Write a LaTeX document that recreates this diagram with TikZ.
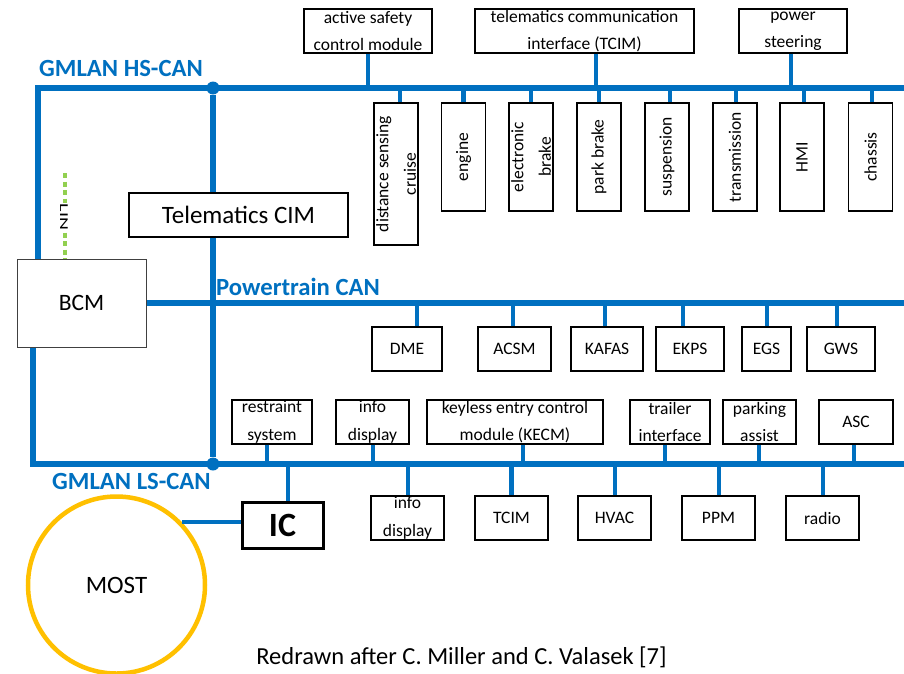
\documentclass[tikz,border=0pt]{standalone}
\usepackage{fontspec}
\setmainfont{Carlito}
\usepackage{tikz}
\usetikzlibrary{positioning, calc}
\definecolor{cBus}{RGB}{0,112,192}
\definecolor{cLin}{RGB}{146,208,80}
\definecolor{cMost}{RGB}{255,192,0}
\tikzset{
	bus/.style={line width=5.5pt, draw=cBus},
	stub/.style={line width=4.5pt, draw=cBus},
	ecu/.style={rectangle, draw=black, line width=1.3pt, fill=white, inner sep=0pt, align=center, font=\fontsize{17.5}{27.5}\selectfont},
	vecu/.style={ecu, rotate=90, minimum width=108, minimum height=44},
	busname/.style={anchor=base west, inner sep=0pt, text=cBus, font=\fontsize{24.7}{28}\selectfont\bfseries},
	junction/.style={circle, fill=cBus, minimum size=13, inner sep=0pt},
	linbus/.style={draw=cLin, line width=4pt, dash pattern=on 5pt off 3.5pt},
}

\begin{document}
\begin{tikzpicture}[x=1pt, y=-1pt]
	\useasboundingbox (0,0) rectangle (904,673);
	\clip (0,0) rectangle (904,673);
	% bus ends and junctions
	\coordinate (hsL) at (38,88);
	\coordinate (hsR) at (904,88);
	\coordinate (ptR) at (904,303);
	\coordinate (lsL) at (33,464);
	\coordinate (lsR) at (904,464);
	\node[junction] (hsJ) at (213,88) {};
	\node[junction] (lsJ) at (213,464) {};
	\node[busname] (hsName) at (39,76) {GMLAN HS-CAN};
	\node[busname] (ptName) at (216,295) {Powertrain CAN};
	\node[busname] (lsName) at (52,489) {GMLAN LS-CAN};

	\node[ecu, draw=black!75, line width=1pt, minimum width=129, minimum height=88, font=\fontsize{23.5}{28}\selectfont] (bcm) at (81.5,303) {BCM};
	\node[ecu, minimum width=219, minimum height=44, font=\fontsize{25}{28}\selectfont] (cim) at (238.5,215) {Telematics CIM};

	\draw[bus] (bcm.north -| hsL) -- (hsL) -- (hsR);
	\draw[bus] (bcm.east |- ptR) -- (ptR);
	\draw[bus] (bcm.south -| lsL) -- (lsL) -- (lsR);
	\draw[bus] (hsJ) -- (hsJ |- cim.north);
	\draw[bus] (hsJ |- cim.south) -- (lsJ);

	% LIN
	\coordinate (linTop) at (65,173);
	\draw[linbus] (linTop) -- (linTop |- bcm.north);
	\node[rotate=-90, yscale=0.6, fill=white, inner sep=1pt, font=\fontsize{20}{22}\selectfont] (lin) at (64,217) {LIN};

	% HS-CAN
	\foreach \n/\x/\w/\dx/\txt in {asc/368/128/0/{active safety\\control module}, tci/584.5/219/11.5/{telematics communication\\interface (TCIM)}, ps/793/108/-2/{power\\steering}} {
		\node[ecu, minimum width=\w, minimum height=44] (\n) at (\x,31) {\txt};
		\draw[stub] ([xshift=\dx pt]\n.south) coordinate (s) -- (s |- hsR);
	}
	\node[vecu, minimum width=142] (dsc) at (396,174) {distance sensing\\cruise};
	\draw[stub] ([xshift=4pt]dsc.east) coordinate (s) -- (s |- hsR);
	\foreach \n/\x/\dx/\txt in {engine/463.5/0/engine, ebrake/531/0/{electronic\\brake}, pbrake/599/0/{park brake}, susp/667/3/suspension, trans/735/1/transmission, hmi/802/2/HMI, chassis/870.5/1.5/chassis} {
		\node[vecu] (\n) at (\x,157) {\txt};
		\draw[stub] ([xshift=\dx pt]\n.east) coordinate (s) -- (s |- hsR);
	}

	% Powertrain CAN
	\foreach \n/\x/\w/\dx/\txt in {dme/407/70/10/DME, acsm/514.5/73/-1.5/ACSM, kafas/607/72/-2/KAFAS, ekps/690/68/-7/EKPS, egs/766.5/49/0.5/EGS, gws/841/68/-4/GWS} {
		\node[ecu, minimum width=\w, minimum height=44] (\n) at (\x,349) {\txt};
		\draw[stub] ([xshift=\dx pt]\n.north) coordinate (s) -- (s |- ptR);
	}

	% LS-CAN
	\foreach \n/\x/\w/\dx/\txt in {restraint/272/80/-5/{restraint\\system}, infoA/372.5/73/0.5/{info\\display}, kecm/515/176/8/{keyless entry control\\module (KECM)}, trailer/670/80/-5/{trailer\\interface}, parking/759.5/73/-0.5/{parking\\assist}, ascb/856/74/-2/ASC} {
		\node[ecu, minimum width=\w, minimum height=44] (\n) at (\x,422) {\txt};
		\draw[stub] ([xshift=\dx pt]\n.south) coordinate (s) -- (s |- lsR);
	}
	\foreach \n/\x/\dx/\txt in {infoB/407.5/0.5/{info\\display}, tcim/511.5/0/TCIM, hvac/614.5/0.5/HVAC, ppm/718.5/0.5/PPM, radio/822.5/0.5/radio} {
		\node[ecu, minimum width=73, minimum height=44] (\n) at (\x,518) {\txt};
		\draw[stub] ([xshift=\dx pt]\n.north) coordinate (s) -- (s |- lsR);
	}
	\node[ecu, line width=3pt, minimum width=81, minimum height=46, font=\fontsize{34}{34}\selectfont\bfseries] (ic) at (282.5,525) {IC};
	\draw[stub] ([xshift=5.5pt]ic.north) coordinate (s) -- (s |- lsR);

	% MOST ring
	\node[circle, draw=cMost, line width=4.5pt, minimum size=177, inner sep=0pt, font=\fontsize{25}{28}\selectfont] (most) at (116.5,585) {MOST};
	\draw[stub] (most.44) -- (most.44 -| ic.west);

	\node[anchor=base, inner sep=0pt, font=\fontsize{24.5}{28}\selectfont] (caption) at (461.5,664) {Redrawn after C. Miller and C. Valasek [7]};
\end{tikzpicture}
\end{document}
